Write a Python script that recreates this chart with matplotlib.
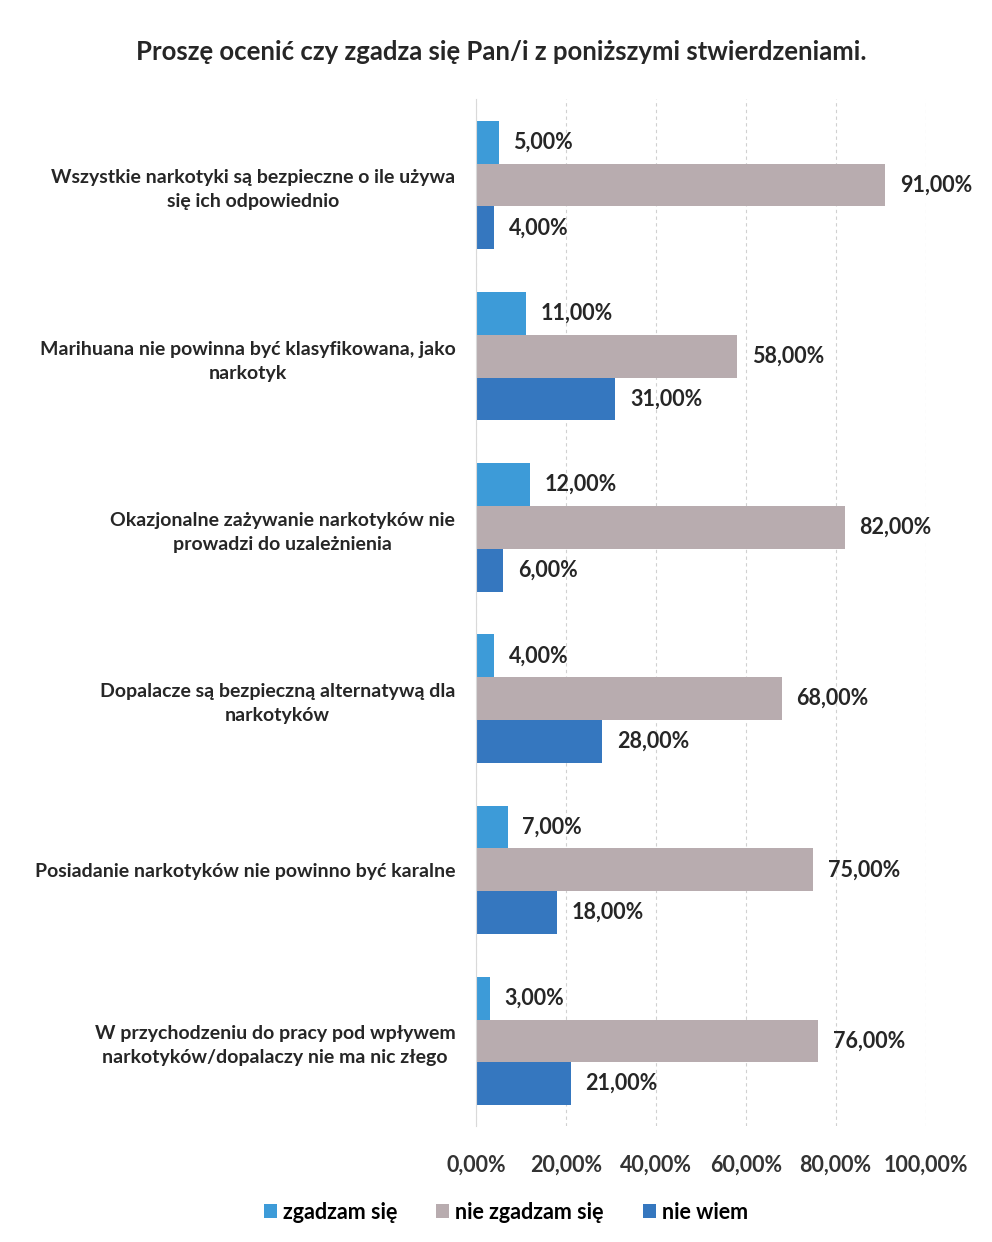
import matplotlib.pyplot as plt
import numpy as np

statements = [
    "Wszystkie narkotyki są bezpieczne o ile używa\nsię ich odpowiednio",
    "Marihuana nie powinna być klasyfikowana, jako\nnarkotyk",
    "Okazjonalne zażywanie narkotyków nie\nprowadzi do uzależnienia",
    "Dopalacze są bezpieczną alternatywą dla\nnarkotyków",
    "Posiadanie narkotyków nie powinno być karalne",
    "W przychodzeniu do pracy pod wpływem\nnarkotyków/dopalaczy nie ma nic złego",
]
agree = [5, 11, 12, 4, 7, 3]
disagree = [91, 58, 82, 68, 75, 76]
dont_know = [4, 31, 6, 28, 18, 21]
series_names = ["zgadzam się", "nie zgadzam się", "nie wiem"]
colors = ["#3d9bd8", "#b8acaf", "#3577bf"]
xticks = [0, 20, 40, 60, 80, 100]

plt.rcParams["font.family"] = ["Lato", "DejaVu Sans"]
plt.rcParams["font.weight"] = "bold"

fig = plt.figure(figsize=(9.92, 12.42), dpi=100)
ax = fig.add_axes([0.48, 0.093, 0.453, 0.827])

y = np.arange(len(statements))
h = 0.25
text_color = "#262626"

for i, (vals, name, col) in enumerate(zip([agree, disagree, dont_know], series_names, colors)):
    bars = ax.barh(y + (i - 1) * h, vals, height=h, color=col, label=name)
    for b, v in zip(bars, vals):
        ax.text(b.get_width() + 3.3, b.get_y() + b.get_height() / 2, f"{v:.2f}%".replace(".", ","),
                va="center", ha="left", fontsize=15.5, fontweight="bold", color=text_color)

ax.set_xlim(0, 100)
ax.set_ylim(len(statements) - 0.5, -0.5)
ax.set_xticks(xticks)
ax.set_xticklabels([f"{t:.2f}%".replace(".", ",") for t in xticks], fontsize=15.5,
                   fontweight="bold", color="#333333")
ax.set_yticks(y)
ax.set_yticklabels(statements, fontsize=14, fontweight="bold", color=text_color,
                   multialignment="center", linespacing=1.5)
ax.tick_params(axis="both", length=0)
ax.tick_params(axis="x", pad=20)
ax.tick_params(axis="y", pad=15)
for side in ["top", "right", "bottom"]:
    ax.spines[side].set_visible(False)
ax.spines["left"].set_color("#d9d9d9")
ax.grid(axis="x", color="#d0d0d0", linestyle=(0, (3, 3)), linewidth=0.8)
ax.set_axisbelow(True)

fig.text(0.505, 0.958, "Proszę ocenić czy zgadza się Pan/i z poniższymi stwierdzeniami.",
         ha="center", va="center", fontsize=18.5, fontweight="bold", color=text_color)

fig.legend(loc="center", bbox_to_anchor=(0.51, 0.024), ncol=3, frameon=False,
           fontsize=15.5, handlelength=0.6, handleheight=0.6, handletextpad=0.3,
           columnspacing=1.8)

fig.savefig("out.png", dpi=100)
